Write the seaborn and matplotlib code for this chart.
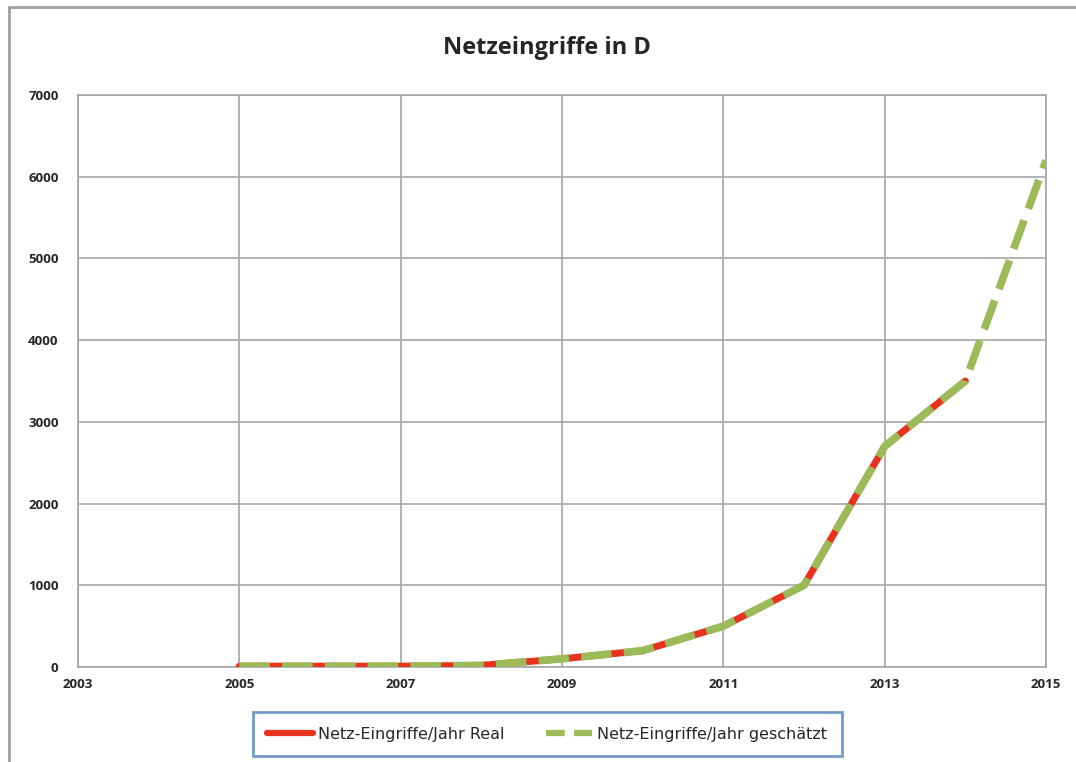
import matplotlib
matplotlib.use("Agg")
import matplotlib.pyplot as plt
from matplotlib.lines import Line2D
import seaborn as sns
import pandas as pd

years_real = [2005, 2006, 2007, 2008, 2009, 2010, 2011, 2012, 2013, 2014]
values_real = [10, 10, 10, 20, 100, 200, 500, 1000, 2700, 3500]
years_est = [2005, 2006, 2007, 2008, 2009, 2010, 2011, 2012, 2013, 2014, 2015]
values_est = [10, 10, 10, 20, 100, 200, 500, 1000, 2700, 3500, 6200]
label_real = "Netz-Eingriffe/Jahr Real"
label_est = "Netz-Eingriffe/Jahr geschätzt"
title = "Netzeingriffe in D"
xticks = [2003, 2005, 2007, 2009, 2011, 2013, 2015]
yticks = [0, 1000, 2000, 3000, 4000, 5000, 6000, 7000]

sns.set_theme(style="white")
plt.rcParams['font.family'] = ['Open Sans', 'DejaVu Sans']

df_real = pd.DataFrame({"Jahr": years_real, "Wert": values_real})
df_est = pd.DataFrame({"Jahr": years_est, "Wert": values_est})

fig = plt.figure(figsize=(10.76, 7.62), dpi=100)
ax = fig.add_axes([78/1076, 1-667/762, (1046-78)/1076, (667-95)/762])

sns.lineplot(data=df_real, x="Jahr", y="Wert", ax=ax, color="#E8321E",
             linewidth=5, label=label_real, zorder=3)
sns.lineplot(data=df_est, x="Jahr", y="Wert", ax=ax, color="#9BBB59",
             linewidth=5.5, linestyle=(0, (4, 1.6)), label=label_est, zorder=4)
ax.lines[-1].set_solid_capstyle('butt')
ax.lines[-1].set_dash_capstyle('butt')

ax.set_xlim(2003, 2015)
ax.set_ylim(0, 7000)
ax.set_xticks(xticks)
ax.set_yticks(yticks)
ax.set_xlabel("")
ax.set_ylabel("")
ax.grid(True, color="#A6A6A6", linewidth=1.2)
for s in ax.spines.values():
    s.set_color("#A6A6A6")
    s.set_linewidth(1.2)
ax.tick_params(axis='both', length=0, labelsize=9.5)
ax.tick_params(axis='y', pad=14)
ax.tick_params(axis='x', pad=8)
for lab in ax.get_xticklabels() + ax.get_yticklabels():
    lab.set_fontweight('bold')

ax.get_legend().remove()
handles = [Line2D([0], [0], color="#E8321E", linewidth=4.5),
           Line2D([0], [0], color="#9BBB59", linewidth=4.5, linestyle=(0, (3, 1.5)))]
leg = fig.legend(handles, [label_real, label_est], loc='center',
                 bbox_to_anchor=(547/1076, 1-734/762), ncol=2, frameon=True,
                 prop={'family': ['DejaVu Sans'], 'size': 11.5},
                 handlelength=2.9, handletextpad=0.3, columnspacing=2.6,
                 borderpad=0.9, borderaxespad=0, fancybox=False)
leg.get_frame().set_edgecolor("#4F81BD")
leg.get_frame().set_linewidth(2)

fig.text(547/1076, 1-48/762, title, ha='center', va='center',
         fontsize=17, fontweight='bold')

fig.add_artist(Line2D([9/1076, 9/1076], [0, 1-7/762], color="#A0A0A0", linewidth=2))
fig.add_artist(Line2D([9/1076, 1], [1-7/762, 1-7/762], color="#A0A0A0", linewidth=2))

fig.savefig("out.png", dpi=100)
